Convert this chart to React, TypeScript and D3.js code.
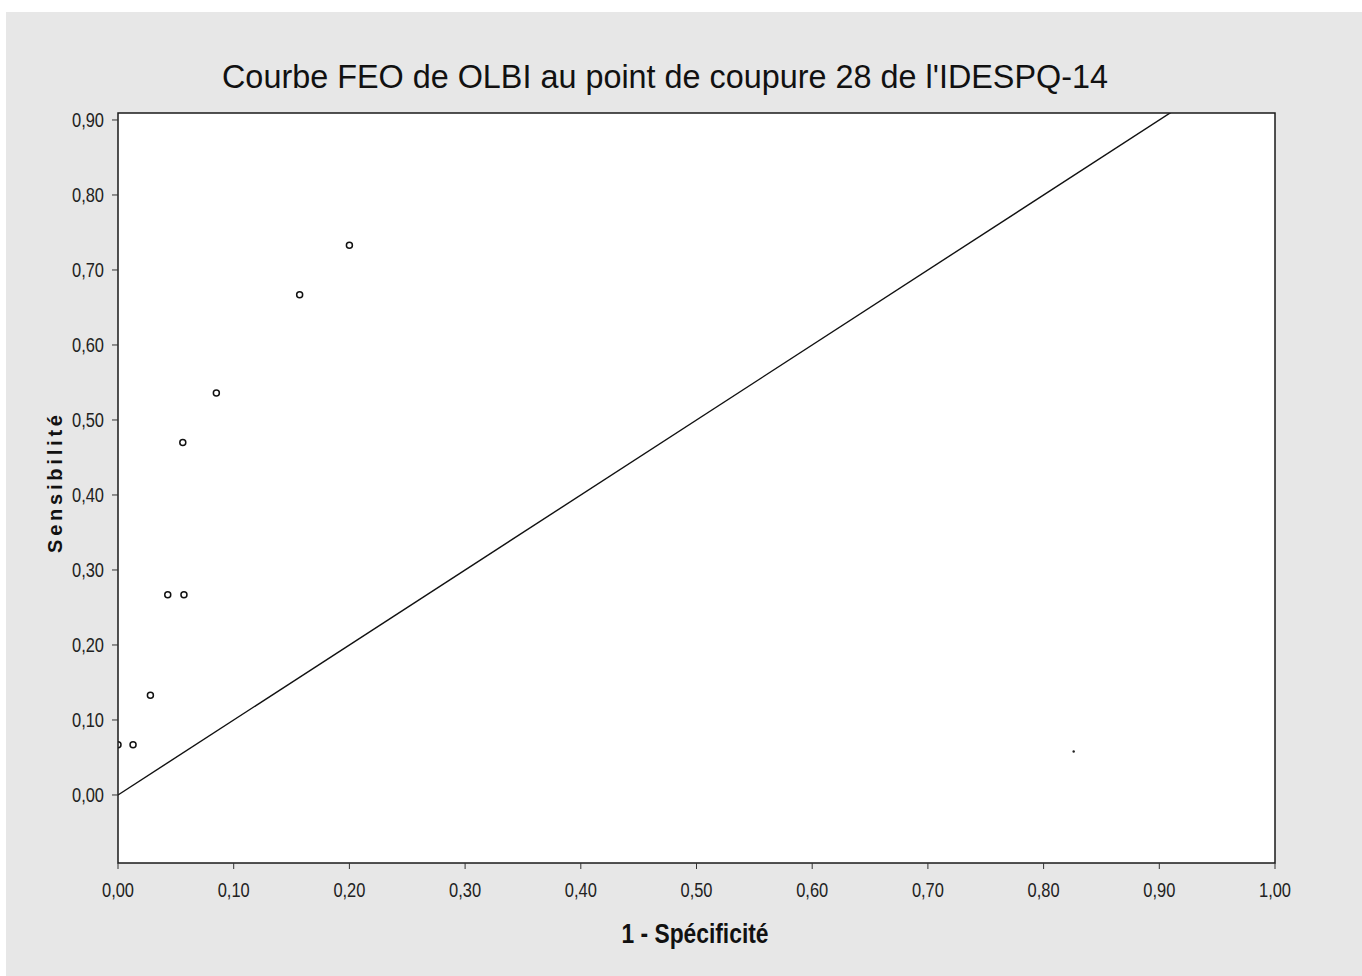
import React from "react";
import * as d3 from "d3";

const fpr = [0, 0.013, 0.028, 0.043, 0.057, 0.056, 0.085, 0.157, 0.2];
const tpr = [0.067, 0.067, 0.133, 0.267, 0.267, 0.47, 0.536, 0.667, 0.733];
const strayX = [0.826];
const strayY = [0.058];
const xTicks = [0, 0.1, 0.2, 0.3, 0.4, 0.5, 0.6, 0.7, 0.8, 0.9, 1.0];
const yTicks = [0, 0.1, 0.2, 0.3, 0.4, 0.5, 0.6, 0.7, 0.8, 0.9];
const diag = [0, 1];
const title = "Courbe FEO de OLBI au point de coupure 28 de l'IDESPQ-14";
const xLabel = "1 - Spécificité";
const yLabel = "Sensibilité";

const W = 1362, H = 976;
const L = 118, R = 1275, T = 113, B = 863;
const arial = "'Liberation Sans', Arial, sans-serif";

export default function App() {
  const x = d3.scaleLinear().domain([0, 1]).range([L, R]);
  const y = d3.scaleLinear().domain([-0.0907, 0.9093]).range([B, T]);
  const fmt = (v: number) => d3.format(".2f")(v).replace(".", ",");
  const line = d3.line<number>().x((d) => x(d)).y((d) => y(d));
  const pts = fpr.map((f, i) => ({ f, t: tpr[i] }));
  return (
    <svg width={W} height={H} style={{ position: "absolute", left: 0, top: 0, background: "#fff" }}>
      <defs>
        <clipPath id="plotclip">
          <rect x={L} y={T} width={R - L} height={B - T} />
        </clipPath>
      </defs>
      <rect x={6} y={12} width={W - 6} height={H - 12} fill="#e7e7e7" />
      <rect x={L} y={T} width={R - L} height={B - T} fill="#ffffff" />
      <text x={665} y={88} textAnchor="middle" fontFamily={arial} fontSize={33} fill="#111" textLength={886} lengthAdjust="spacingAndGlyphs">
        {title}
      </text>
      <g clipPath="url(#plotclip)">
        <path d={line(diag) || ""} fill="none" stroke="#111" strokeWidth={1.4} />
        {pts.map((p, i) => (
          <circle key={i} cx={x(p.f)} cy={y(p.t)} r={3} fill="#fff" stroke="#111" strokeWidth={1.5} />
        ))}
        {strayX.map((sx, i) => (
          <circle key={"s" + i} cx={x(sx)} cy={y(strayY[i])} r={1.2} fill="#222" />
        ))}
      </g>
      <rect x={L} y={T} width={R - L} height={B - T} fill="none" stroke="#1a1a1a" strokeWidth={1.5} />
      {xTicks.map((t) => (
        <g key={"x" + t}>
          <line x1={x(t)} x2={x(t)} y1={B} y2={B + 6} stroke="#333" strokeWidth={1} />
          <text x={x(t)} y={897} textAnchor="middle" fontFamily={arial} fontSize={20} fill="#222" textLength={32} lengthAdjust="spacingAndGlyphs">
            {fmt(t)}
          </text>
        </g>
      ))}
      {yTicks.map((t) => (
        <g key={"y" + t}>
          <line x1={L - 6} x2={L} y1={y(t)} y2={y(t)} stroke="#333" strokeWidth={1} />
          <text x={104} y={y(t)} dy="0.35em" textAnchor="end" fontFamily={arial} fontSize={20} fill="#222" textLength={32} lengthAdjust="spacingAndGlyphs">
            {fmt(t)}
          </text>
        </g>
      ))}
      <text x={695} y={943} textAnchor="middle" fontFamily={arial} fontWeight="bold" fontSize={27} fill="#111" textLength={147} lengthAdjust="spacingAndGlyphs">
        {xLabel}
      </text>
      <text transform={`translate(62,484) rotate(-90)`} textAnchor="middle" fontFamily={arial} fontWeight="bold" fontSize={20} fill="#111" textLength={138} lengthAdjust="spacing">
        {yLabel}
      </text>
    </svg>
  );
}
